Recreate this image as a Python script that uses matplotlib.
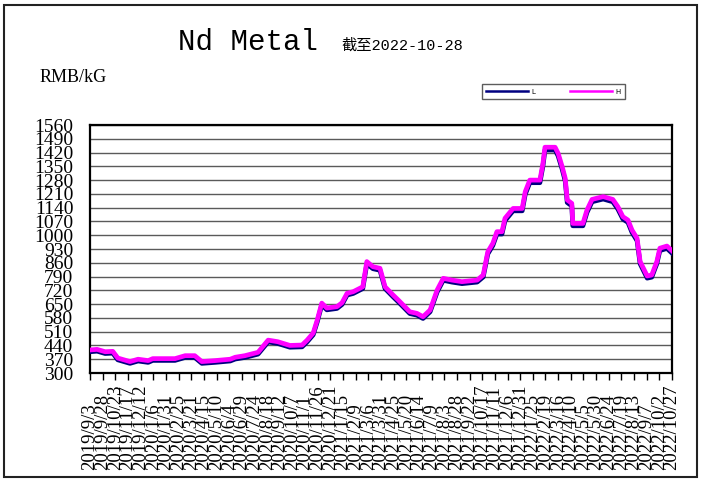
"""Nd Metal price chart (RMB/kG), L and H quotes, up to 2022-10-28."""

import matplotlib

matplotlib.use("Agg")
import matplotlib.dates as mdates
import matplotlib.pyplot as plt
import matplotlib.transforms as mtransforms
import pandas as pd
from matplotlib.patches import Rectangle

DATES = [
    "2019-09-03", "2019-09-17", "2019-10-03", "2019-10-18", "2019-10-28",
    "2019-11-21", "2019-12-07", "2019-12-27", "2020-01-05", "2020-02-18",
    "2020-03-09", "2020-03-28", "2020-04-11", "2020-05-07", "2020-06-06",
    "2020-06-16", "2020-07-05", "2020-07-31", "2020-08-20", "2020-09-08",
    "2020-10-02", "2020-10-26", "2020-11-05", "2020-11-17", "2020-11-25",
    "2020-12-04", "2020-12-14", "2021-01-03", "2021-01-13", "2021-01-23",
    "2021-02-04", "2021-02-23", "2021-03-03", "2021-03-15", "2021-03-29",
    "2021-04-08", "2021-04-24", "2021-05-04", "2021-05-27", "2021-06-10",
    "2021-06-22", "2021-07-06", "2021-07-20", "2021-08-01", "2021-08-18",
    "2021-09-07", "2021-10-07", "2021-10-19", "2021-10-28", "2021-11-07",
    "2021-11-15", "2021-11-25", "2021-12-01", "2021-12-17", "2022-01-04",
    "2022-01-10", "2022-01-19", "2022-02-08", "2022-02-14", "2022-02-18",
    "2022-03-10", "2022-03-16", "2022-03-24", "2022-03-30", "2022-04-03",
    "2022-04-12", "2022-04-14", "2022-05-04", "2022-05-12", "2022-05-22",
    "2022-06-13", "2022-07-02", "2022-07-12", "2022-07-22", "2022-08-01",
    "2022-08-09", "2022-08-19", "2022-08-25", "2022-09-08", "2022-09-17",
    "2022-09-27", "2022-10-03", "2022-10-17", "2022-10-27",
]

HIGH = [
    417, 420, 408, 410, 376, 358, 370, 363, 373, 373,
    388, 388, 358, 363, 370, 380, 388, 405, 467, 459,
    440, 442, 467, 503, 569, 655, 630, 637, 657, 705,
    713, 738, 866, 840, 832, 738, 696, 671, 611, 603,
    586, 620, 722, 781, 772, 764, 772, 798, 916, 959,
    1018, 1018, 1086, 1136, 1136, 1221, 1280, 1280, 1365, 1447,
    1447, 1416, 1348, 1289, 1179, 1162, 1060, 1060, 1128, 1182,
    1196, 1182, 1145, 1094, 1077, 1026, 984, 866, 793, 798,
    866, 934, 945, 921,
]

LOW = [
    408, 411, 399, 401, 367, 349, 361, 354, 364, 364,
    379, 379, 349, 354, 361, 371, 379, 396, 458, 450,
    431, 433, 458, 494, 560, 646, 621, 628, 648, 696,
    704, 729, 855, 830, 822, 729, 687, 662, 602, 594,
    577, 611, 712, 771, 762, 754, 762, 788, 905, 948,
    1006, 1006, 1074, 1124, 1124, 1208, 1267, 1267, 1352, 1433,
    1433, 1403, 1335, 1276, 1166, 1149, 1048, 1048, 1116, 1170,
    1184, 1170, 1133, 1082, 1065, 1014, 972, 855, 782, 787,
    855, 922, 933, 909,
]

TICK_LABELS = [
    "2019/9/3", "2019/9/28", "2019/10/23", "2019/11/17", "2019/12/12",
    "2020/1/6", "2020/1/31", "2020/2/25", "2020/3/21", "2020/4/15",
    "2020/5/10", "2020/6/4", "2020/6/29", "2020/7/24", "2020/8/18",
    "2020/9/12", "2020/10/7", "2020/11/1", "2020/11/26", "2020/12/21",
    "2021/1/15", "2021/2/9", "2021/3/6", "2021/3/31", "2021/4/25",
    "2021/5/20", "2021/6/14", "2021/7/9", "2021/8/3", "2021/8/28",
    "2021/9/22", "2021/10/17", "2021/11/11", "2021/12/6", "2021/12/31",
    "2022/1/25", "2022/2/19", "2022/3/16", "2022/4/10", "2022/5/5",
    "2022/5/30", "2022/6/24", "2022/7/19", "2022/8/13", "2022/9/7",
    "2022/10/2", "2022/10/27",
]

Y_TICKS = list(range(300, 1561, 70))

SERIF = "Liberation Serif"
MONO = ["Liberation Mono", "Noto Sans CJK SC", "DejaVu Sans"]


def main() -> None:
    dates = pd.to_datetime(DATES)
    tick_dates = pd.to_datetime(TICK_LABELS, format="%Y/%m/%d")

    fig = plt.figure(figsize=(7.05, 4.83), dpi=100)
    W, H = 705, 483
    ax = fig.add_axes([90 / W, 1 - 373 / H, 582 / W, 248 / H])

    ax.plot(dates, LOW, color="#000080", lw=3.4, label="L", zorder=3)
    ax.plot(dates, HIGH, color="#ff00ff", lw=3.4, label="H", zorder=4)

    ax.set_ylim(300, 1560)
    ax.set_xlim(tick_dates[0], tick_dates[-1])
    ax.set_yticks(Y_TICKS)
    ax.set_yticklabels([str(v) for v in Y_TICKS], family=SERIF, fontsize=14)
    ax.tick_params(axis="y", length=0, pad=12)
    ax.yaxis.grid(True, color="#5a5a5a", lw=1.0)
    ax.set_axisbelow(True)

    ax.set_xticks(tick_dates)
    ax.set_xticklabels([])
    ax.tick_params(axis="x", direction="out", length=5, width=1, color="black")
    # labels sit on a common baseline near the bottom; long ones reach the axis
    trans = mtransforms.blended_transform_factory(ax.transData, ax.transAxes)
    for d, lab in zip(tick_dates, TICK_LABELS):
        ax.text(mdates.date2num(d), (373 - 470) / 248, lab, transform=trans,
                rotation=90, ha="center", va="bottom", family=SERIF,
                fontsize=13.5, clip_on=False)

    for sp in ax.spines.values():
        sp.set_color("black")
        sp.set_linewidth(1.6)

    fig.text(248 / W, 1 - 42 / H, "Nd Metal", family=MONO, fontsize=21,
             ha="center", va="center")
    fig.text(402 / W, 1 - 46 / H, "截至2022-10-28", family=MONO, fontsize=11,
             ha="center", va="center")
    fig.text(40 / W, 1 - 78 / H, "RMB/kG", family=SERIF, fontsize=13,
             ha="left", va="center")

    leg = ax.legend(loc="center", ncol=2, fontsize=5, frameon=True,
                    bbox_to_anchor=(482 / W, 1 - 100 / H, 143 / W, 17 / H),
                    bbox_transform=fig.transFigure, mode="expand",
                    handlelength=6, handletextpad=0.5, columnspacing=3,
                    borderpad=0.6, fancybox=False, borderaxespad=0)
    leg.get_frame().set_edgecolor("#333333")
    leg.get_frame().set_linewidth(1.0)
    for line in leg.get_lines():
        line.set_linewidth(1.8)

    fig.add_artist(Rectangle((4 / W, 1 - 477 / H), 693 / W, 472 / H,
                             transform=fig.transFigure, fill=False,
                             edgecolor="#222222", lw=1.5))

    fig.savefig("out.png", dpi=100)


if __name__ == "__main__":
    main()
